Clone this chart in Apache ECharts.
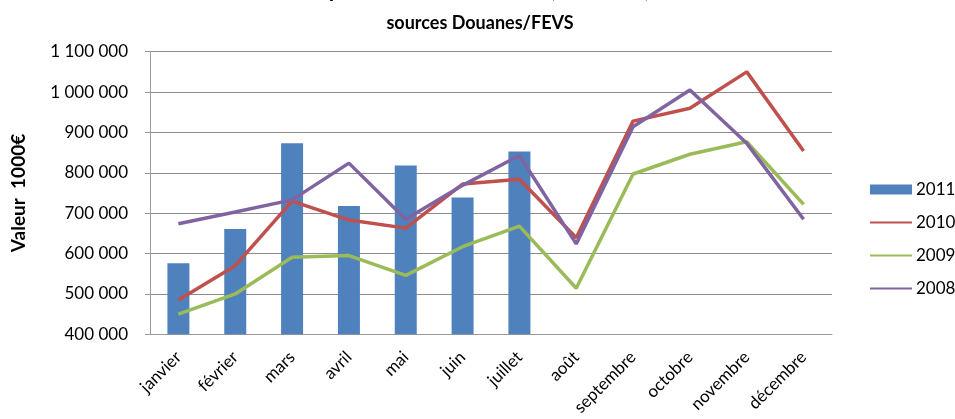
<!DOCTYPE html>
<html><head><meta charset="utf-8">
<script src="https://cdn.jsdelivr.net/npm/echarts@6/dist/echarts.min.js"></script>
<style>html,body{margin:0;padding:0;background:#fff}#c{width:955px;height:419px}</style>
</head><body><div id="c"></div>
<script>
const categories = ['janvier','février','mars','avril','mai','juin','juillet','août','septembre','octobre','novembre','décembre'];
const v2011 = [576000, 661000, 873000, 718000, 818000, 739000, 853000, null, null, null, null, null];
const v2010 = [485000, 570000, 730000, 683000, 663000, 772000, 784000, 639000, 928000, 960000, 1050000, 854000];
const v2009 = [450000, 500000, 591000, 595000, 546000, 617000, 668000, 514000, 797000, 846000, 877000, 722000];
const v2008 = [674000, 703000, 733000, 824000, 685000, 769000, 843000, 624000, 914000, 1005000, 873000, 685000];
const seriesNames = ['2011', '2010', '2009', '2008'];
const yTicks = {min: 400000, max: 1100000, interval: 100000};

const FONT = 'Lato';
const fmt = v => String(v).replace(/\B(?=(\d{3})+(?!\d))/g, ' ');
const chart = echarts.init(document.getElementById('c'), null, {renderer: 'canvas'});
const lineSeries = (name, data, color) => ({
  name, type: 'line', data, symbol: 'none', smooth: false,
  lineStyle: {color, width: 3.5}, itemStyle: {color}, z: 3
});
const hideSym = {opacity: 0};
chart.setOption({
  animation: false,
  backgroundColor: '#fff',
  title: [
    {text: 'Exportations mensuelles (en valeur)', left: 'center', top: -26,
     textStyle: {fontFamily: FONT, fontSize: 22, fontWeight: 'bold', color: '#000'}},
    {text: 'sources Douanes/FEVS', left: 475, textAlign: 'center', top: 9,
     textStyle: {fontFamily: FONT, fontSize: 18, fontWeight: 'bold', color: '#000'}}
  ],
  legend: {
    orient: 'vertical', left: 864, top: 176, itemWidth: 42, itemHeight: 10, itemGap: 16,
    textStyle: {fontFamily: FONT, fontSize: 17, color: '#000', padding: [0,0,0,-1]},
    data: [
      {name: '2011', icon: 'rect'},
      {name: '2010', itemStyle: hideSym},
      {name: '2009', itemStyle: hideSym},
      {name: '2008', itemStyle: hideSym}
    ]
  },
  grid: {left: 150, right: 123, top: 51.7, bottom: 84.7, containLabel: false},
  xAxis: {
    type: 'category', data: categories, boundaryGap: true,
    axisLine: {lineStyle: {color: '#9a9a9a', width: 1}},
    axisTick: {show: false},
    axisLabel: {rotate: 45, margin: 20, fontFamily: FONT, fontSize: 17, color: '#000', interval: 0}
  },
  yAxis: {
    type: 'value', min: yTicks.min, max: yTicks.max, interval: yTicks.interval,
    name: 'Valeur  1000€', nameLocation: 'middle', nameGap: 122, nameRotate: 90,
    nameTextStyle: {fontFamily: FONT, fontSize: 19, fontWeight: 'bold', color: '#000'},
    axisLine: {show: true, lineStyle: {color: '#9a9a9a', width: 1}},
    axisTick: {show: true, length: 5, inside: false, lineStyle: {color: '#9a9a9a'}},
    axisLabel: {margin: 22, fontFamily: FONT, fontSize: 17, color: '#000', formatter: fmt},
    splitLine: {lineStyle: {color: '#8c8c8c', width: 1}}
  },
  series: [
    {name: seriesNames[0], type: 'bar', data: v2011, barWidth: 22,
     itemStyle: {color: '#4F81BD'}, z: 2},
    lineSeries(seriesNames[1], v2010, '#C0504D'),
    lineSeries(seriesNames[2], v2009, '#9BBB59'),
    lineSeries(seriesNames[3], v2008, '#8064A2')
  ]
});
</script></body></html>
